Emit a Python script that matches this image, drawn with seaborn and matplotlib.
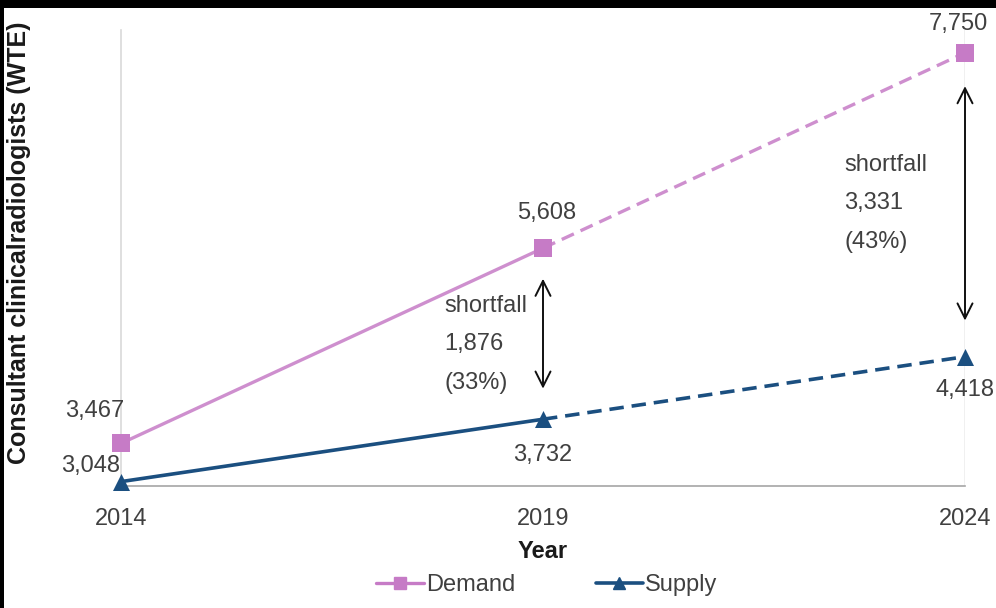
import matplotlib
matplotlib.use("Agg")
import matplotlib.pyplot as plt
from matplotlib.patches import Rectangle
from matplotlib.lines import Line2D
import seaborn as sns
import pandas as pd

years = [2014, 2019, 2024]
demand = [3467, 5608, 7750]
supply = [3048, 3732, 4418]
demand_labels = ["3,467", "5,608", "7,750"]
supply_labels = ["3,048", "3,732", "4,418"]
shortfall_text = [["shortfall", "1,876", "(33%)"], ["shortfall", "3,331", "(43%)"]]
series_names = ["Demand", "Supply"]
xlabel = "Year"
ylabel = "Consultant clinicalradiologists (WTE)"

sns.set_theme(style="white")
plt.rcParams['font.family'] = ['Liberation Sans', 'DejaVu Sans']

DEM_C = "#C67BC6"
SUP_C = "#1B4F80"
TXT_C = "#404040"
FS = 17

fig = plt.figure(figsize=(9.96, 6.08), dpi=100)
fig.patch.set_facecolor("black")
fig.add_artist(Rectangle((4/996, 0), 1, 1 - 8/608, transform=fig.transFigure,
                         facecolor="white", edgecolor="none", zorder=-10))
ax = fig.add_axes([121/996, 1 - 486/608, (965 - 121)/996, (486 - 30)/608])
ax.set_facecolor("white")

df = pd.DataFrame({"year": years, "Demand": demand, "Supply": supply})
solid = df.iloc[:2]
dashed = df.iloc[1:]

sns.lineplot(data=solid, x="year", y="Demand", ax=ax, color=DEM_C, lw=2.4, alpha=0.85)
sns.lineplot(data=dashed, x="year", y="Demand", ax=ax, color=DEM_C, lw=2.4, alpha=0.85,
             linestyle=(0, (4, 2.2)))
sns.lineplot(data=solid, x="year", y="Supply", ax=ax, color=SUP_C, lw=2.6)
sns.lineplot(data=dashed, x="year", y="Supply", ax=ax, color=SUP_C, lw=2.6,
             linestyle=(0, (4, 2.2)))
sns.scatterplot(data=df, x="year", y="Demand", ax=ax, marker="s", s=150, color=DEM_C,
                edgecolor=DEM_C, linewidth=0, clip_on=False, zorder=5)
sns.scatterplot(data=df, x="year", y="Supply", ax=ax, marker="^", s=150, color=SUP_C,
                edgecolor=SUP_C, linewidth=0, clip_on=False, zorder=5)

ax.set_xlim(2014, 2024)
ax.set_ylim(3000, 8000)
ax.set_xticks(years)
ax.set_xticklabels([str(y) for y in years], fontsize=FS, color=TXT_C)
ax.set_yticks([])
ax.set_ylabel("")
ax.tick_params(axis="x", length=7, width=1, color="#A6A6A6", direction="out", pad=9)
for s in ["top", "right"]:
    ax.spines[s].set_visible(False)
ax.spines["left"].set_color("#D9D9D9")
ax.spines["left"].set_linewidth(1.2)
ax.spines["bottom"].set_color("#A6A6A6")
ax.spines["bottom"].set_linewidth(1.2)
ax.axvline(2024, color="#EEEEEE", lw=1.2, zorder=0)

ax.set_xlabel(xlabel, fontsize=FS, fontweight="bold", color="#1a1a1a", labelpad=7)
fig.text(19/996, 1 - 243/608, ylabel, rotation=90, fontsize=18, fontweight="bold",
         color="#1a1a1a", ha="center", va="center")

# data labels (offsets in points)
dem_off = [(-19, 23), (3, 25), (-5, 21)]
sup_off = [(-22, 11), (0, -26), (0, -24)]
for x, y, t, o in zip(years, demand, demand_labels, dem_off):
    ax.annotate(t, (x, y), xytext=o, textcoords="offset points", ha="center",
                va="center", fontsize=FS, color=TXT_C, annotation_clip=False, zorder=6)
for x, y, t, o in zip(years, supply, supply_labels, sup_off):
    ax.annotate(t, (x, y), xytext=o, textcoords="offset points", ha="center",
                va="center", fontsize=FS, color=TXT_C, annotation_clip=False, zorder=6)

# shortfall arrows and text
for i, (x, dv, sv) in enumerate(zip(years[1:], demand[1:], supply[1:])):
    ax.annotate("", xy=(x, dv), xytext=(x, sv),
                xycoords="data", textcoords="data",
                arrowprops=dict(arrowstyle="<->,head_length=0.9,head_width=0.45",
                                color="#111111", lw=1.4,
                                shrinkA=22 if i == 0 else 26,
                                shrinkB=22 if i == 0 else 24),
                annotation_clip=False)

blk = [(-71, -41.5), (-87, -80.5)]
for (x, dv), lines, (dx, dy) in zip(zip(years[1:], demand[1:]), shortfall_text, blk):
    for j, line in enumerate(lines):
        ax.annotate(line, (x, dv), xytext=(dx, dy - j * 27.7), textcoords="offset points",
                    ha="left", va="center", fontsize=FS, color=TXT_C, annotation_clip=False)

handles = [Line2D([], [], color=DEM_C, lw=2.4, marker="s", markersize=8),
           Line2D([], [], color=SUP_C, lw=2.6, marker="^", markersize=8)]
fig.legend(handles, series_names, loc="center", bbox_to_anchor=(547/996, 1 - 585/608),
           ncol=2, frameon=False, fontsize=FS, handlelength=2.0, handletextpad=0.1,
           columnspacing=3.4, labelcolor=TXT_C)

fig.savefig("out.png", dpi=100, facecolor=fig.get_facecolor())
